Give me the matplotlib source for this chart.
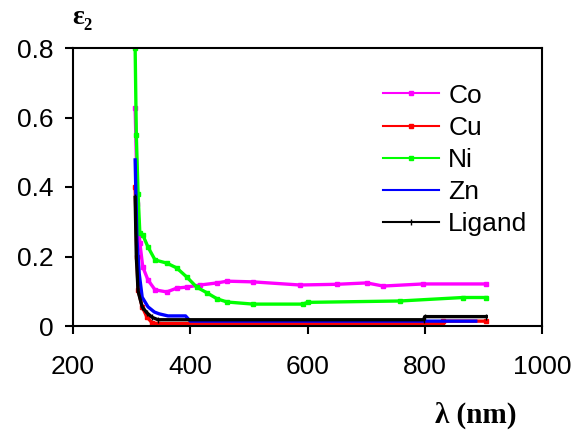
import matplotlib
matplotlib.use("Agg")
import matplotlib.pyplot as plt

# ---- data ----
co_x = [306, 310, 314, 319, 328, 340, 360, 377, 394, 417, 446, 463, 507, 587, 650, 701, 729, 797, 905]
co_y = [0.627, 0.35, 0.24, 0.17, 0.132, 0.104, 0.098, 0.109, 0.112, 0.118, 0.124, 0.129, 0.127, 0.118, 0.120, 0.124, 0.115, 0.121, 0.121]

cu_x = [306, 309, 311, 318, 326, 335, 345, 830, 831, 905]
cu_y = [0.40, 0.20, 0.104, 0.055, 0.026, 0.009, 0.007, 0.007, 0.014, 0.014]

ni_x = [306, 308, 311, 314, 319, 328, 340, 360, 377, 394, 411, 429, 446, 463, 507, 592, 600, 758, 865, 905]
ni_y = [0.80, 0.55, 0.38, 0.268, 0.262, 0.227, 0.19, 0.181, 0.167, 0.141, 0.112, 0.095, 0.078, 0.069, 0.063, 0.063, 0.068, 0.072, 0.082, 0.082]

zn_x = [306, 309, 313, 318, 328, 339, 347, 362, 392, 400, 887]
zn_y = [0.478, 0.25, 0.15, 0.083, 0.055, 0.04, 0.035, 0.029, 0.029, 0.014, 0.014]

lig_x = [306, 308, 311, 318, 326, 335, 345, 798, 800, 905]
lig_y = [0.37, 0.20, 0.10, 0.055, 0.038, 0.025, 0.018, 0.018, 0.027, 0.027]

series_names = ["Co", "Cu", "Ni", "Zn", "Ligand"]
x_ticks = [200, 400, 600, 800, 1000]
y_ticks = [0, 0.2, 0.4, 0.6, 0.8]
y_tick_labels = ["0", "0.2", "0.4", "0.6", "0.8"]

plt.rcParams['font.family'] = ['Liberation Sans', 'DejaVu Sans']

fig = plt.figure(figsize=(5.8, 4.32), dpi=100)
ax = fig.add_axes([73/580, 1-326/432, (542-73)/580, (326-48)/432])

lw = 2.4
ax.plot(co_x, co_y, color='#ff00ff', lw=lw, marker='s', ms=2.5, label=series_names[0])
ax.plot(cu_x, cu_y, color='#ff0000', lw=lw, marker='s', ms=2.5, label=series_names[1])
ax.plot(ni_x, ni_y, color='#00ff00', lw=lw, marker='s', ms=2.5, label=series_names[2])
ax.plot(zn_x, zn_y, color='#0000ff', lw=lw, label=series_names[3])
ax.plot(lig_x, lig_y, color='#000000', lw=lw, marker='|', ms=4, label=series_names[4])

ax.set_xlim(200, 1000)
ax.set_ylim(0, 0.8)
ax.set_xticks(x_ticks)
ax.set_yticks(y_ticks)
ax.set_yticklabels(y_tick_labels)

for s in ax.spines.values():
    s.set_linewidth(1.5)
ax.tick_params(axis='both', direction='out', length=6, width=1.5, labelsize=19)
ax.tick_params(axis='y', pad=8)
ax.tick_params(axis='x', pad=15)

leg = ax.legend(loc='upper left', bbox_to_anchor=(0.662, 0.872), frameon=False,
                fontsize=19, handlelength=2.1, handletextpad=0.35, labelspacing=0.31,
                borderpad=0, borderaxespad=0)
for line in leg.get_lines():
    line.set_linewidth(1.5)

fig.text(82/580, 1-18/432, 'ε₂', ha='center', va='center', fontsize=20,
         fontweight='bold', family=['Liberation Serif', 'DejaVu Serif'])
fig.text(476/580, 1-415/432, 'λ (nm)', ha='center', va='center', fontsize=21,
         fontweight='bold', family=['Liberation Serif', 'DejaVu Serif'])

fig.savefig('out.png', dpi=100)
